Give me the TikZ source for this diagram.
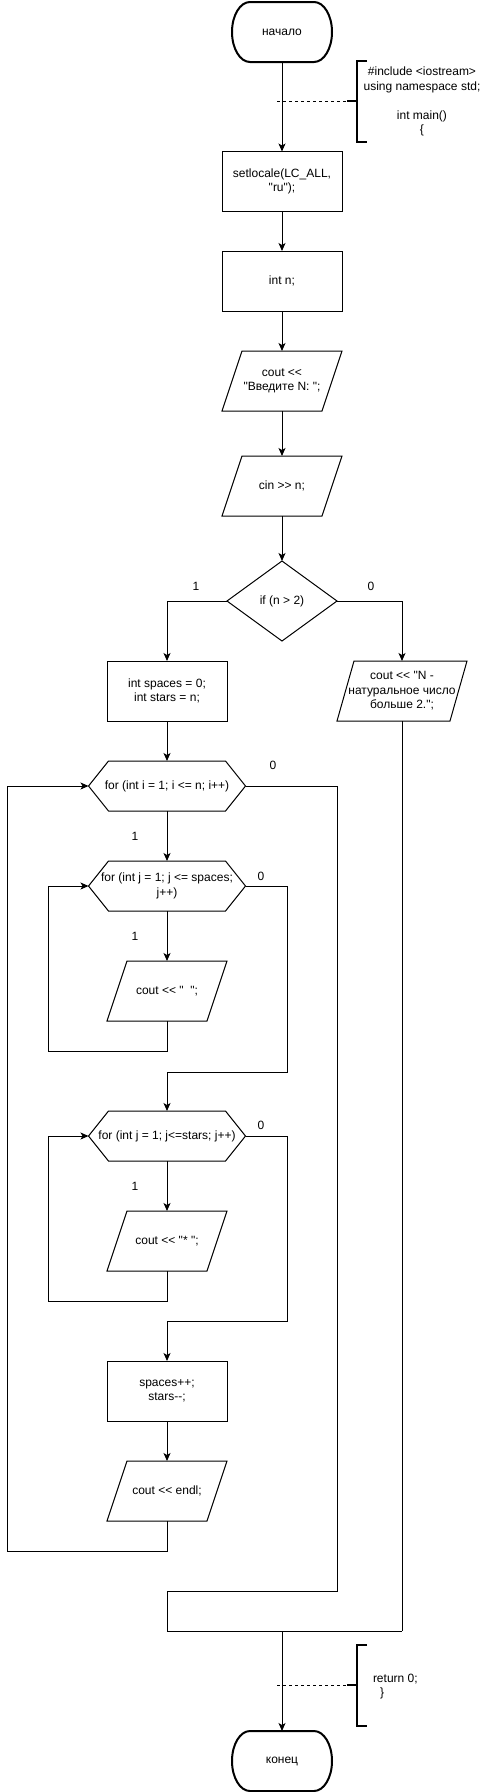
\documentclass[tikz,border=0pt]{standalone}
\usepackage{fontspec}
\setmainfont{Liberation Sans}[Ligatures=TeXOff]
\usetikzlibrary{arrows.meta,shapes.geometric}

% outlines drawn round plain nodes
\newcommand{\hexrim}[1]{\draw[link] (#1.west) -- ([xshift=20pt]#1.north west) -- ([xshift=-20pt]#1.north east)
  -- (#1.east) -- ([xshift=-20pt]#1.south east) -- ([xshift=20pt]#1.south west) -- cycle;}
\newcommand{\iorim}[2][20pt]{\draw[link] ([xshift=#1]#2.north west) -- (#2.north east)
  -- ([xshift=-#1]#2.south east) -- (#2.south west) -- cycle;}
\newcommand{\termrim}[1]{\draw[rim] ([xshift=18pt]#1.north west) -- ([xshift=-18pt]#1.north east)
  arc[start angle=90,end angle=-90,x radius=18pt,y radius=30pt]
  -- ([xshift=18pt]#1.south west)
  arc[start angle=270,end angle=90,x radius=18pt,y radius=30pt] -- cycle;}

\begin{document}
\begin{tikzpicture}[x=1pt,y=-1pt,>={Stealth[length=8pt,width=7pt,inset=2pt]},
    every node/.style={font=\fontsize{12}{14.4}\selectfont,inner sep=0pt,outer sep=0pt,align=center},
    term/.style={minimum width=100pt,minimum height=60pt},
    rim/.style={line width=2pt},
    proc/.style={draw,line width=1pt,minimum width=120pt,minimum height=60pt},
    io/.style={minimum width=120pt,minimum height=60pt},
    cond/.style={draw,line width=1pt,diamond,aspect=1.375,minimum width=110pt,minimum height=80pt},
    loop/.style={minimum width=157pt,minimum height=50pt},
    link/.style={line width=1pt},
    brk/.style={line width=2pt},
    tick/.style={line width=0.8pt,dash pattern=on 3pt off 3pt}]
  \useasboundingbox (0,0) rectangle (488,1792);

  % main column
  \node[term] (start) at (282,32) {начало};
  \termrim{start}
  \node[proc] (locale) at (282,181.5) {setlocale(LC\_ALL,\\"ru");};
  \node[proc] (decl) at (282,281) {int n;};
  \node[io] (ask) at (282,381) {cout <<\\"Введите N: ";};
  \iorim{ask}
  \node[io] (read) at (282,486) {cin >> n;};
  \iorim{read}
  \node[cond] (check) at (282,601) {if (n > 2)};
  \node (yes0) at (196,586) {1};
  \node (no0) at (371,586) {0};

  % branches
  \node[proc] (init) at (167,691) {int spaces = 0;\\int stars = n;};
  \node[io,minimum width=130pt] (err) at (402,691) {cout << "N -\\натуральное число\\больше 2.";};
  \iorim[17pt]{err}

  % loops
  \node[loop] (fori) at (167,786) {for (int i = 1; i <= n; i++)};
  \hexrim{fori}
  \node (no1) at (273,765) {0};
  \node (yes1) at (135,836) {1};
  \node[loop] (forj1) at (167,886) {for (int j = 1; j <= spaces;\\j++)};
  \hexrim{forj1}
  \node (no2) at (261,876) {0};
  \node (yes2) at (135,936) {1};
  \node[io] (blank) at (167,991) {cout << "\ \ ";};
  \iorim{blank}
  \node[loop] (forj2) at (167,1136) {for (int j = 1; j<=stars; j++)};
  \hexrim{forj2}
  \node (no3) at (261,1125) {0};
  \node (yes3) at (135,1186) {1};
  \node[io] (star) at (167,1241) {cout << "* ";};
  \iorim{star}
  \node[proc] (step1) at (167,1391) {spaces++;\\stars--;};
  \node[io] (newline) at (167,1491) {cout << endl;};
  \iorim{newline}

  \node[term] (stop) at (282,1761) {конец};
  \termrim{stop}

  % turning points
  \coordinate (b1) at (48,1051);
  \coordinate (e1) at (287,1072);
  \coordinate (b2) at (48,1301);
  \coordinate (e2) at (287,1321);
  \coordinate (b3) at (7,1551);
  \coordinate (e3) at (337,1591);
  \coordinate (m1) at (167,1631);
  \coordinate (m0) at (282,1631);
  \coordinate (m2) at (402,1631);

  % arrows
  \draw[link,->] (start) -- (locale);
  \draw[link,->] (locale) -- (decl);
  \draw[link,->] (decl) -- (ask);
  \draw[link,->] (ask) -- (read);
  \draw[link,->] (read) -- (check);
  \draw[link,->] (check.west) -| (init.north);
  \draw[link,->] (check.east) -| (err.north);
  \draw[link,->] (init) -- (fori);
  \draw[link,->] (fori) -- (forj1);
  \draw[link,->] (forj1) -- (blank);
  \draw[link,->] (blank.south) |- (b1) |- (forj1.west);
  \draw[link,->] (forj1.east) -| (e1) -| (forj2.north);
  \draw[link,->] (forj2) -- (star);
  \draw[link,->] (star.south) |- (b2) |- (forj2.west);
  \draw[link,->] (forj2.east) -| (e2) -| (step1.north);
  \draw[link,->] (step1) -- (newline);
  \draw[link,->] (newline.south) |- (b3) |- (fori.west);
  \draw[link] (fori.east) -| (e3) -| (m1);
  \draw[link] (m1) -- (m2);
  \draw[link] (err.south) -- (m2);
  \draw[link,->] (m0) -- (stop);

  % comments
  \node (head) at (422,101.5) {\#include <iostream>\\using namespace std;\\[14.4pt]int main()\\\{};
  \coordinate (d1) at (277,101);
  \coordinate (n1) at (347,101);
  \draw[brk] (367,61) -- (357,61) -- (357,142) -- (367,142);
  \draw[brk] (n1) -- (357,101);
  \draw[tick] (d1) -- (n1);

  \node[align=left,anchor=west] (tail) at (373,1686.5) {return 0;\\\hspace{7pt}\}};
  \coordinate (d2) at (277,1685);
  \coordinate (n2) at (347,1685);
  \draw[brk] (367,1645) -- (357,1645) -- (357,1726) -- (367,1726);
  \draw[brk] (n2) -- (357,1685);
  \draw[tick] (d2) -- (n2);
\end{tikzpicture}
\end{document}
